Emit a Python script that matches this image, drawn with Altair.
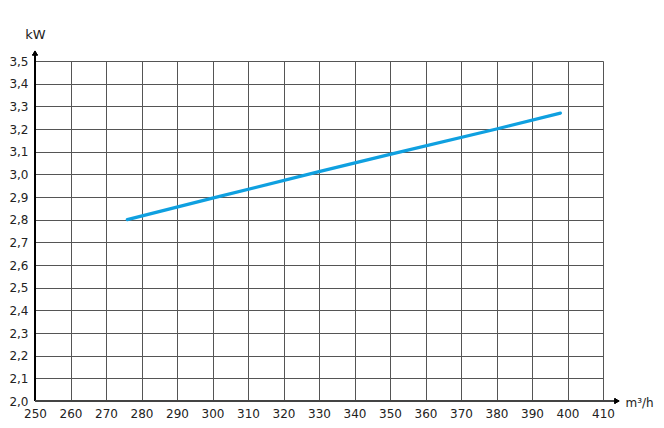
import altair as alt
import pandas as pd

flow = [276, 300, 330, 350, 380, 398]
power = [2.80, 2.895, 3.012, 3.088, 3.20, 3.27]
x_ticks = list(range(250, 411, 10))
y_ticks = [round(2.0 + 0.1 * i, 1) for i in range(16)]

df = pd.DataFrame({"flow": flow, "power": power})

W, H = 568, 340
FONT = "DejaVu Sans"

xs = alt.Scale(domain=[250, 410], nice=False, zero=False)
ys = alt.Scale(domain=[2.0, 3.5], nice=False, zero=False)

base = alt.Chart(df)

line = base.mark_line(color="#0fa0e0", strokeWidth=3.2, strokeCap="round").encode(
    x=alt.X("flow:Q", scale=xs,
            axis=alt.Axis(values=x_ticks, grid=True, domain=False, ticks=False,
                          labelPadding=7, labelFontSize=12, labelColor="#222",
                          labelFont=FONT, gridColor="#555", gridWidth=1,
                          title="m³/h", titleAngle=0, titleX=W + 22, titleY=1,
                          titleAlign="left", titleBaseline="middle",
                          titleFont=FONT, titleFontSize=12, titleFontWeight="normal",
                          titleColor="#222", labelFlush=False)),
    y=alt.Y("power:Q", scale=ys,
            axis=alt.Axis(values=y_ticks, grid=True, domain=False, ticks=False,
                          labelExpr="replace(format(datum.value, '.1f'), '.', ',')",
                          labelPadding=7, labelFontSize=12, labelColor="#222",
                          labelFont=FONT, gridColor="#555", gridWidth=1,
                          title="kW", titleAngle=0, titleX=0, titleY=-23,
                          titleAlign="center", titleBaseline="alphabetic",
                          titleFont=FONT, titleFontSize=13, titleFontWeight="normal",
                          titleColor="#222", labelFlush=False)),
)

# axis lines with arrows
yaxis_line = base.mark_rule(color="#000", strokeWidth=1.5).encode(
    x=alt.value(0), y=alt.value(H), y2=alt.value(-7))
xaxis_line = base.mark_rule(color="#444", strokeWidth=2).encode(
    x=alt.value(0), x2=alt.value(W + 12), y=alt.value(H))
yarrow = base.mark_point(shape="triangle-up", filled=True, color="#000", size=30, opacity=1).encode(
    x=alt.value(0), y=alt.value(-8))
xarrow = base.mark_point(shape="triangle-right", filled=True, color="#000", size=30, opacity=1).encode(
    x=alt.value(W + 14), y=alt.value(H))

chart = alt.layer(line, yaxis_line, xaxis_line, yarrow, xarrow).properties(
    width=W, height=H,
    autosize=alt.AutoSizeParams(type="none"),
    padding={"left": 27, "top": 53, "right": 53, "bottom": 19},
).configure_view(stroke=None).configure(background="white")

chart.save("out.html", embed_options={"renderer": "svg", "actions": False})
